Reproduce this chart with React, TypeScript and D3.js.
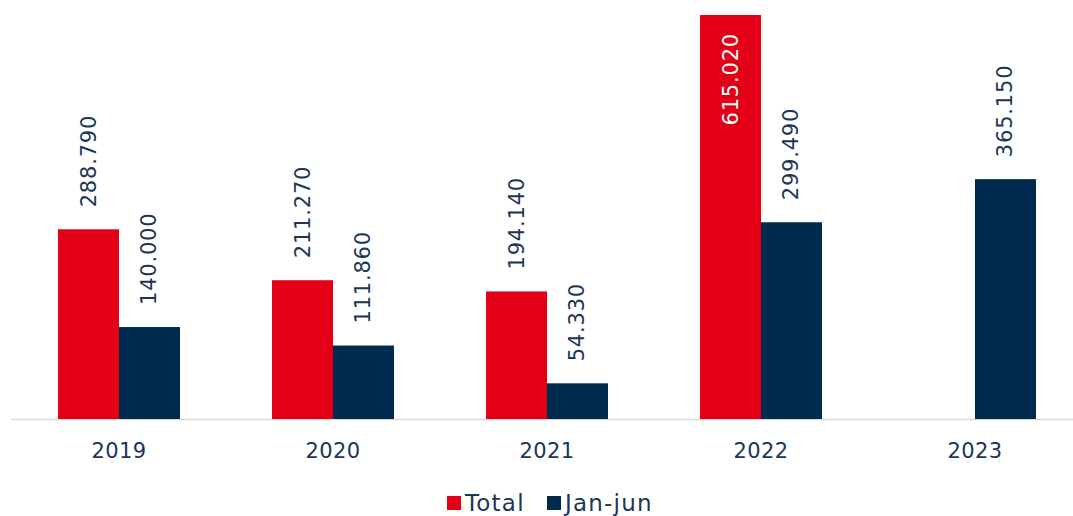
import React from "react";
import * as d3 from "d3";

const years = ["2019", "2020", "2021", "2022", "2023"];
const totalValues: (number | null)[] = [288.79, 211.27, 194.14, 615.02, null];
const janJunValues: (number | null)[] = [140.0, 111.86, 54.33, 299.49, 365.15];
const seriesNames = ["Total", "Jan-jun"];
const seriesColors = ["#e30016", "#002b50"];

const width = 1073;
const height = 516;
const baseY = 419;
const textColor = "#1b3657";
const font = "'DejaVu Sans', sans-serif";

const fmt = (v: number) => d3.format(".3f")(v);

const App = () => {
  const x = d3.scaleBand().domain(years).range([12, 1082]).paddingInner(0.43).paddingOuter(0.215);
  const inner = d3.scaleBand().domain(seriesNames).range([0, x.bandwidth()]);
  const y = d3.scaleLinear().domain([0, 615.02]).range([baseY, 15]);
  const series = [totalValues, janJunValues];

  return (
    <svg width={width} height={height} style={{ position: "absolute", left: 0, top: 0 }}>
      <line x1={11} x2={width} y1={baseY + 0.5} y2={baseY + 0.5} stroke="#d9d9d9" strokeWidth={1.5} />
      {series.map((vals, si) =>
        vals.map((v, i) => {
          if (v == null) return null;
          const bx = (x(years[i]) as number) + (inner(seriesNames[si]) as number);
          const bw = inner.bandwidth();
          const top = y(v);
          const cx = bx + bw / 2;
          const inside = top < 60;
          const ly = inside ? top + 18 : top - 22;
          return (
            <g key={`${si}-${i}`}>
              <rect x={bx} y={top} width={bw} height={baseY - top} fill={seriesColors[si]} />
              <text
                transform={`translate(${cx},${ly}) rotate(-90)`}
                textAnchor={inside ? "end" : "start"}
                dominantBaseline="central"
                fontFamily={font}
                fontSize={21}
                letterSpacing={0.8}
                fill={inside ? "#ffffff" : textColor}
              >
                {fmt(v)}
              </text>
            </g>
          );
        })
      )}
      {years.map((yr) => (
        <text
          key={yr}
          x={(x(yr) as number) + x.bandwidth() / 2}
          y={458}
          textAnchor="middle"
          fontFamily={font}
          fontSize={21}
          letterSpacing={0.4}
          fill={textColor}
        >
          {yr}
        </text>
      ))}
      <g>
        <rect x={447} y={496} width={14} height={14} fill={seriesColors[0]} />
        <text x={465} y={511} fontFamily={font} fontSize={23} letterSpacing={1.2} fill={textColor}>
          {seriesNames[0]}
        </text>
        <rect x={547} y={496} width={14} height={14} fill={seriesColors[1]} />
        <text x={565} y={511} fontFamily={font} fontSize={23} letterSpacing={1.2} fill={textColor}>
          {seriesNames[1]}
        </text>
      </g>
    </svg>
  );
};

export default App;
